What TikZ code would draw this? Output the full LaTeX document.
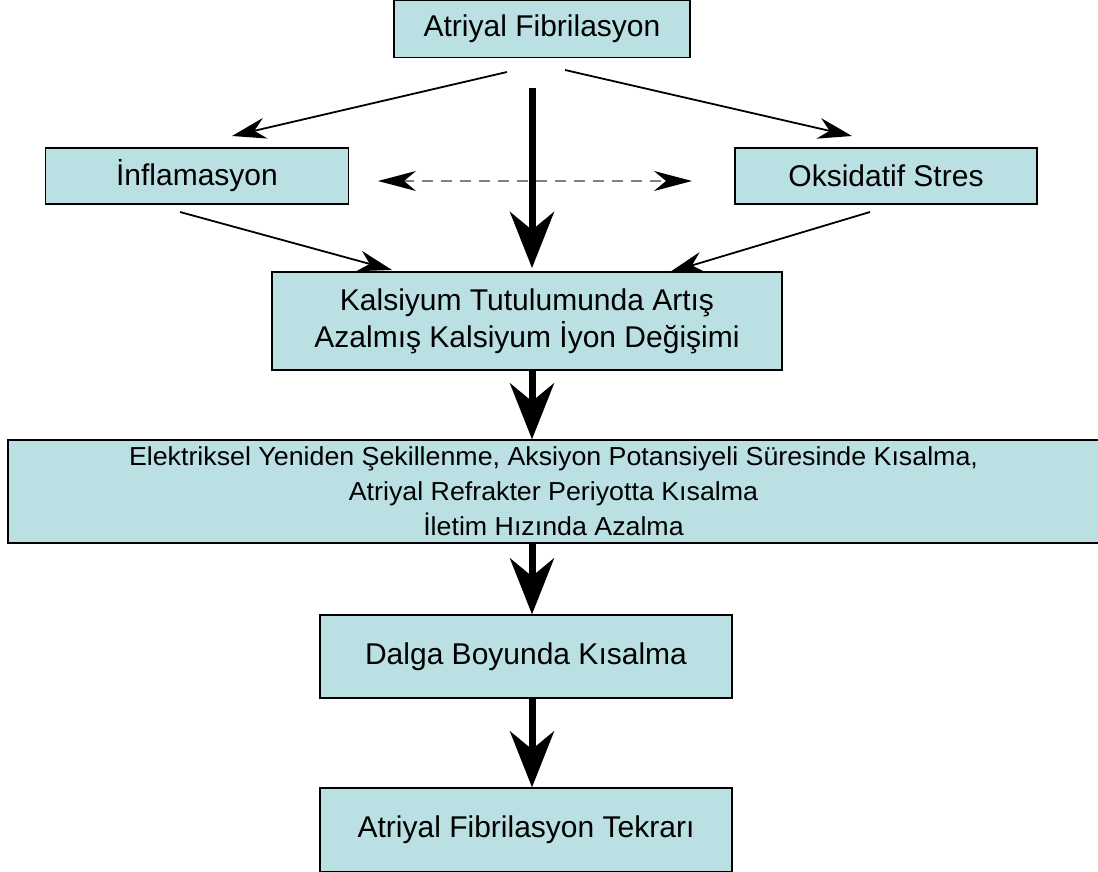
\documentclass[tikz,border=0pt]{standalone}
\usepackage{fontspec}
\setmainfont{Liberation Sans}
\newfontfamily\widefont[FakeStretch=1.03]{Liberation Sans}
\usetikzlibrary{arrows.meta, positioning}

\definecolor{kutu}{HTML}{BBE0E3}

\tikzset{
  kutu/.style={draw=black, line width=1.3pt, fill=kutu, inner sep=0pt, align=center, font=\fontsize{30}{37}\selectfont},
  ince/.style={-{Stealth[length=34pt,width=21pt,inset=11pt]}, line width=1.8pt},
  kalin/.style={-{Stealth[length=56pt,width=44pt,inset=18pt]}, line width=7pt},
  kesik/.style={{Stealth[length=38pt,width=20pt,inset=12pt,color=black]}-{Stealth[length=38pt,width=20pt,inset=12pt,color=black]}, line width=1.6pt, draw=gray, dash pattern=on 11pt off 8pt},
}

\begin{document}
\begin{tikzpicture}[x=1pt,y=-1pt]
  \useasboundingbox (0,0) rectangle (1098,872);

  % kutular
  \node[kutu, minimum width=296pt, minimum height=57pt] (af) at (542,29) {Atriyal Fibrilasyon};
  \node[kutu, minimum width=303pt, minimum height=56pt] (inf) at (197,176) {İnflamasyon};
  \node[kutu, minimum width=302pt, minimum height=56pt] (oks) at (886,176) {Oksidatif Stres};
  \node[kutu, minimum width=510pt, minimum height=98pt] (kal) at (527,321) {Kalsiyum Tutulumunda Artış\\Azalmış Kalsiyum İyon Değişimi};
  \node[kutu, minimum width=1091pt, minimum height=103pt, font=\widefont\fontsize{26}{35}\selectfont] (elk) at (553.5,491.5) {Elektriksel Yeniden Şekillenme, Aksiyon Potansiyeli Süresinde Kısalma,\\Atriyal Refrakter Periyotta Kısalma\\İletim Hızında Azalma};
  \node[kutu, minimum width=412pt, minimum height=83pt] (dal) at (526,656.5) {Dalga Boyunda Kısalma};
  \node[kutu, minimum width=412pt, minimum height=84pt] (tek) at (526,830) {Atriyal Fibrilasyon Tekrarı};

  % serbest uclar
  \coordinate (af-l) at (507,72);
  \coordinate (af-r) at (565,70);
  \coordinate (af-m) at (532,88);
  \coordinate (inf-b) at (180,212);
  \coordinate (oks-b) at (870,212);
  \coordinate (kal-l) at (392,270);
  \coordinate (kal-r) at (670,272);
  \coordinate (kal-m) at (532,268);
  \coordinate (inf-t) at (232,136);
  \coordinate (oks-t) at (852,136);
  \coordinate (ok-l) at (378,181);
  \coordinate (ok-r) at (692,181);

  % oklar
  \draw[ince] (af-l) -- (inf-t);
  \draw[ince] (af-r) -- (oks-t);
  \draw[kalin] (af-m) -- (kal-m);
  \draw[ince] (inf-b) -- (kal-l);
  \draw[ince] (oks-b) -- (kal-r);
  \draw[kesik] (ok-l) -- (ok-r);

  \draw[kalin] (kal.south -| af-m) -- (elk.north -| af-m);
  \draw[kalin] (elk.south -| af-m) -- (dal.north -| af-m);
  \draw[kalin] (dal.south -| af-m) -- (tek.north -| af-m);
\end{tikzpicture}
\end{document}
